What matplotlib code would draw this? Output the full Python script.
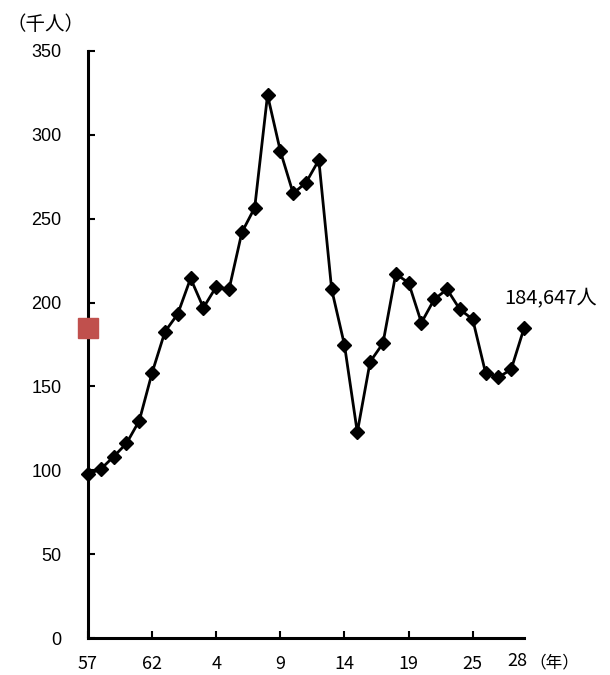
import matplotlib
matplotlib.use("Agg")
import matplotlib.pyplot as plt

plt.rcParams['font.family'] = ['Liberation Sans', 'Noto Sans CJK JP', 'DejaVu Sans']

# Data: 1982 (Showa 57) .. 2016 (Heisei 28), thousands of persons
values = [97.7, 100.8, 108.2, 116.1, 129.6, 158.2, 182.6, 193.2, 214.4, 196.9,
          209.4, 207.9, 241.8, 256.5, 323.6, 290.2, 265.0, 271.4, 284.9, 207.9,
          174.7, 122.7, 164.7, 175.7, 217.0, 211.8, 188.0, 201.9, 207.9, 195.9,
          190.0, 158.2, 155.4, 160.2, 184.647]
tick_pos = [0, 5, 10, 15, 20, 25, 30]
tick_labels = ["57", "62", "4", "9", "14", "19", "25"]
last_label = "28"
unit_x = "（年）"
unit_y = "（千人）"
y_ticks = [0, 50, 100, 150, 200, 250, 300, 350]
annot_text = "184,647人"

x = list(range(len(values)))

fig = plt.figure(figsize=(6.1, 6.75), dpi=100)
ax = fig.add_axes([88/610, 1-638.3/675, (524-88)/610, (638.3-50.7)/675])

ax.plot(x, values, color='black', lw=2.0, marker='D', ms=7.5,
        markerfacecolor='black', markeredgecolor='black', zorder=3, clip_on=False)
# red marker at the axis for the latest value
ax.plot([0], [values[-1]], marker='s', ms=14, color='#C0504D', ls='none',
        clip_on=False, zorder=4)

ax.set_xlim(0, len(values)-1)
ax.set_ylim(0, 350)
ax.set_yticks(y_ticks)
ax.set_yticklabels([str(v) for v in y_ticks], fontsize=13, family='Liberation Sans')
ax.set_xticks(tick_pos)
ax.set_xticklabels(tick_labels, fontsize=13, family=['Noto Sans CJK JP'])

for s in ['top', 'right']:
    ax.spines[s].set_visible(False)
for s in ['left', 'bottom']:
    ax.spines[s].set_linewidth(2.2)
ax.tick_params(axis='y', direction='in', length=5, width=1.5, pad=19)
ax.tick_params(axis='x', direction='in', length=5, width=1.5, pad=12)

ax.annotate(last_label, xy=(len(values)-1, 0), xycoords='data',
            xytext=(-5, -16), textcoords='offset points', ha='center', va='center',
            fontsize=13, family=['Noto Sans CJK JP'])
ax.annotate(unit_x, xy=(len(values)-1, 0), xycoords='data',
            xytext=(22, -18), textcoords='offset points', ha='center', va='center',
            fontsize=12, family=['Noto Sans CJK JP'])
fig.text(45/610, 1-24/675, unit_y, ha='center', va='center', fontsize=14,
         family=['Noto Sans CJK JP'])
ax.annotate(annot_text, xy=(len(values)-1, values[-1]), xycoords='data',
            xytext=(19, 21), textcoords='offset points', ha='center', va='center',
            fontsize=14.5, family=['Noto Sans CJK JP'])

fig.savefig("out.png", dpi=100)
